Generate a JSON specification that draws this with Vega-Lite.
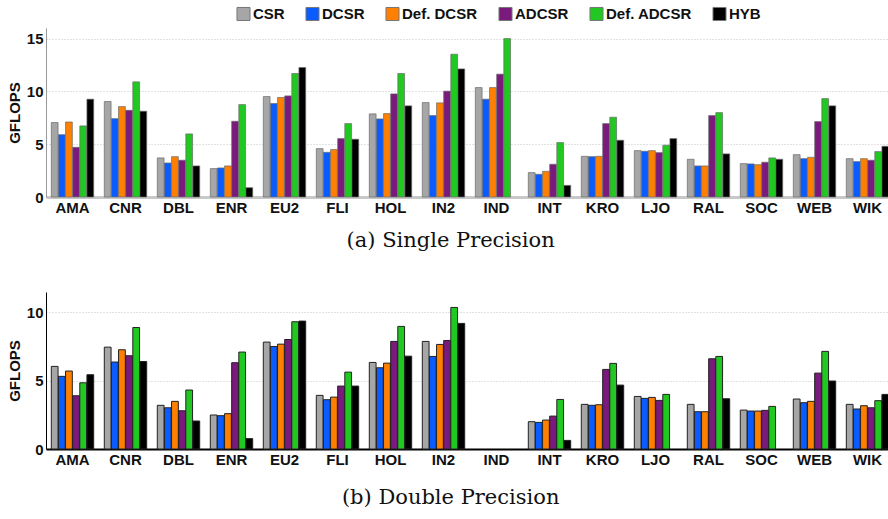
{
  "$schema": "https://vega.github.io/schema/vega-lite/v6.json",
  "padding": {"left": 7, "top": 6, "right": 0, "bottom": 0},
  "background": "white",
  "config": {
    "view": {"stroke": null},
    "axis": {"labelFont": "Liberation Sans", "labelFontWeight": "bold", "labelFontSize": 15, "labelColor": "#111", "titleFont": "Liberation Sans", "titleFontWeight": "bold", "titleFontSize": 15, "titleColor": "#111", "ticks": false},
    "title": {"font": "DejaVu Serif", "fontSize": 21, "fontWeight": "normal", "color": "#111", "orient": "bottom", "anchor": "middle", "frame": "bounds", "offset": 15}
  },
  "spacing": 41,
  "resolve": {"legend": {"color": "independent"}},
  "datasets": {
    "sp": [
      {"m":"AMA","f":"CSR","v":7.05},{"m":"AMA","f":"DCSR","v":5.9},{"m":"AMA","f":"Def. DCSR","v":7.1},{"m":"AMA","f":"ADCSR","v":4.7},{"m":"AMA","f":"Def. ADCSR","v":6.73},{"m":"AMA","f":"HYB","v":9.26},
      {"m":"CNR","f":"CSR","v":9.04},{"m":"CNR","f":"DCSR","v":7.42},{"m":"CNR","f":"Def. DCSR","v":8.56},{"m":"CNR","f":"ADCSR","v":8.21},{"m":"CNR","f":"Def. ADCSR","v":10.9},{"m":"CNR","f":"HYB","v":8.12},
      {"m":"DBL","f":"CSR","v":3.7},{"m":"DBL","f":"DCSR","v":3.22},{"m":"DBL","f":"Def. DCSR","v":3.82},{"m":"DBL","f":"ADCSR","v":3.48},{"m":"DBL","f":"Def. ADCSR","v":5.97},{"m":"DBL","f":"HYB","v":2.94},
      {"m":"ENR","f":"CSR","v":2.69},{"m":"ENR","f":"DCSR","v":2.75},{"m":"ENR","f":"Def. DCSR","v":2.94},{"m":"ENR","f":"ADCSR","v":7.17},{"m":"ENR","f":"Def. ADCSR","v":8.75},{"m":"ENR","f":"HYB","v":0.88},
      {"m":"EU2","f":"CSR","v":9.51},{"m":"EU2","f":"DCSR","v":8.85},{"m":"EU2","f":"Def. DCSR","v":9.42},{"m":"EU2","f":"ADCSR","v":9.57},{"m":"EU2","f":"Def. ADCSR","v":11.69},{"m":"EU2","f":"HYB","v":12.26},
      {"m":"FLI","f":"CSR","v":4.58},{"m":"FLI","f":"DCSR","v":4.23},{"m":"FLI","f":"Def. DCSR","v":4.49},{"m":"FLI","f":"ADCSR","v":5.53},{"m":"FLI","f":"Def. ADCSR","v":6.95},{"m":"FLI","f":"HYB","v":5.47},
      {"m":"HOL","f":"CSR","v":7.87},{"m":"HOL","f":"DCSR","v":7.39},{"m":"HOL","f":"Def. DCSR","v":7.9},{"m":"HOL","f":"ADCSR","v":9.76},{"m":"HOL","f":"Def. ADCSR","v":11.69},{"m":"HOL","f":"HYB","v":8.63},
      {"m":"IN2","f":"CSR","v":8.94},{"m":"IN2","f":"DCSR","v":7.71},{"m":"IN2","f":"Def. DCSR","v":8.91},{"m":"IN2","f":"ADCSR","v":10.02},{"m":"IN2","f":"Def. ADCSR","v":13.52},{"m":"IN2","f":"HYB","v":12.13},
      {"m":"IND","f":"CSR","v":10.36},{"m":"IND","f":"DCSR","v":9.26},{"m":"IND","f":"Def. DCSR","v":10.36},{"m":"IND","f":"ADCSR","v":11.63},{"m":"IND","f":"Def. ADCSR","v":15.0},
      {"m":"INT","f":"CSR","v":2.31},{"m":"INT","f":"DCSR","v":2.15},{"m":"INT","f":"Def. DCSR","v":2.43},{"m":"INT","f":"ADCSR","v":3.1},{"m":"INT","f":"Def. ADCSR","v":5.15},{"m":"INT","f":"HYB","v":1.1},
      {"m":"KRO","f":"CSR","v":3.85},{"m":"KRO","f":"DCSR","v":3.82},{"m":"KRO","f":"Def. DCSR","v":3.85},{"m":"KRO","f":"ADCSR","v":6.95},{"m":"KRO","f":"Def. ADCSR","v":7.55},{"m":"KRO","f":"HYB","v":5.37},
      {"m":"LJO","f":"CSR","v":4.39},{"m":"LJO","f":"DCSR","v":4.33},{"m":"LJO","f":"Def. DCSR","v":4.39},{"m":"LJO","f":"ADCSR","v":4.2},{"m":"LJO","f":"Def. ADCSR","v":4.9},{"m":"LJO","f":"HYB","v":5.53},
      {"m":"RAL","f":"CSR","v":3.57},{"m":"RAL","f":"DCSR","v":2.94},{"m":"RAL","f":"Def. DCSR","v":2.94},{"m":"RAL","f":"ADCSR","v":7.71},{"m":"RAL","f":"Def. ADCSR","v":7.99},{"m":"RAL","f":"HYB","v":4.08},
      {"m":"SOC","f":"CSR","v":3.16},{"m":"SOC","f":"DCSR","v":3.13},{"m":"SOC","f":"Def. DCSR","v":3.06},{"m":"SOC","f":"ADCSR","v":3.29},{"m":"SOC","f":"Def. ADCSR","v":3.7},{"m":"SOC","f":"HYB","v":3.57},
      {"m":"WEB","f":"CSR","v":4.01},{"m":"WEB","f":"DCSR","v":3.63},{"m":"WEB","f":"Def. DCSR","v":3.76},{"m":"WEB","f":"ADCSR","v":7.14},{"m":"WEB","f":"Def. ADCSR","v":9.32},{"m":"WEB","f":"HYB","v":8.63},
      {"m":"WIK","f":"CSR","v":3.63},{"m":"WIK","f":"DCSR","v":3.35},{"m":"WIK","f":"Def. DCSR","v":3.63},{"m":"WIK","f":"ADCSR","v":3.48},{"m":"WIK","f":"Def. ADCSR","v":4.3},{"m":"WIK","f":"HYB","v":4.8}
    ],
    "dp": [
      {"m":"AMA","f":"CSR","v":6.05},{"m":"AMA","f":"DCSR","v":5.32},{"m":"AMA","f":"Def. DCSR","v":5.71},{"m":"AMA","f":"ADCSR","v":3.9},{"m":"AMA","f":"Def. ADCSR","v":4.85},{"m":"AMA","f":"HYB","v":5.44},
      {"m":"CNR","f":"CSR","v":7.46},{"m":"CNR","f":"DCSR","v":6.37},{"m":"CNR","f":"Def. DCSR","v":7.27},{"m":"CNR","f":"ADCSR","v":6.83},{"m":"CNR","f":"Def. ADCSR","v":8.9},{"m":"CNR","f":"HYB","v":6.41},
      {"m":"DBL","f":"CSR","v":3.2},{"m":"DBL","f":"DCSR","v":3.02},{"m":"DBL","f":"Def. DCSR","v":3.49},{"m":"DBL","f":"ADCSR","v":2.8},{"m":"DBL","f":"Def. ADCSR","v":4.32},{"m":"DBL","f":"HYB","v":2.05},
      {"m":"ENR","f":"CSR","v":2.49},{"m":"ENR","f":"DCSR","v":2.44},{"m":"ENR","f":"Def. DCSR","v":2.59},{"m":"ENR","f":"ADCSR","v":6.32},{"m":"ENR","f":"Def. ADCSR","v":7.1},{"m":"ENR","f":"HYB","v":0.76},
      {"m":"EU2","f":"CSR","v":7.83},{"m":"EU2","f":"DCSR","v":7.51},{"m":"EU2","f":"Def. DCSR","v":7.68},{"m":"EU2","f":"ADCSR","v":8.02},{"m":"EU2","f":"Def. ADCSR","v":9.32},{"m":"EU2","f":"HYB","v":9.37},
      {"m":"FLI","f":"CSR","v":3.93},{"m":"FLI","f":"DCSR","v":3.61},{"m":"FLI","f":"Def. DCSR","v":3.8},{"m":"FLI","f":"ADCSR","v":4.61},{"m":"FLI","f":"Def. ADCSR","v":5.63},{"m":"FLI","f":"HYB","v":4.61},
      {"m":"HOL","f":"CSR","v":6.34},{"m":"HOL","f":"DCSR","v":5.95},{"m":"HOL","f":"Def. DCSR","v":6.29},{"m":"HOL","f":"ADCSR","v":7.88},{"m":"HOL","f":"Def. ADCSR","v":8.98},{"m":"HOL","f":"HYB","v":6.8},
      {"m":"IN2","f":"CSR","v":7.88},{"m":"IN2","f":"DCSR","v":6.78},{"m":"IN2","f":"Def. DCSR","v":7.66},{"m":"IN2","f":"ADCSR","v":7.95},{"m":"IN2","f":"Def. ADCSR","v":10.37},{"m":"IN2","f":"HYB","v":9.2},
      {"m":"INT","f":"CSR","v":2.0},{"m":"INT","f":"DCSR","v":1.95},{"m":"INT","f":"Def. DCSR","v":2.12},{"m":"INT","f":"ADCSR","v":2.41},{"m":"INT","f":"Def. ADCSR","v":3.63},{"m":"INT","f":"HYB","v":0.63},
      {"m":"KRO","f":"CSR","v":3.27},{"m":"KRO","f":"DCSR","v":3.2},{"m":"KRO","f":"Def. DCSR","v":3.24},{"m":"KRO","f":"ADCSR","v":5.83},{"m":"KRO","f":"Def. ADCSR","v":6.27},{"m":"KRO","f":"HYB","v":4.68},
      {"m":"LJO","f":"CSR","v":3.85},{"m":"LJO","f":"DCSR","v":3.71},{"m":"LJO","f":"Def. DCSR","v":3.78},{"m":"LJO","f":"ADCSR","v":3.56},{"m":"LJO","f":"Def. ADCSR","v":4.0},
      {"m":"RAL","f":"CSR","v":3.27},{"m":"RAL","f":"DCSR","v":2.73},{"m":"RAL","f":"Def. DCSR","v":2.73},{"m":"RAL","f":"ADCSR","v":6.61},{"m":"RAL","f":"Def. ADCSR","v":6.78},{"m":"RAL","f":"HYB","v":3.68},
      {"m":"SOC","f":"CSR","v":2.85},{"m":"SOC","f":"DCSR","v":2.78},{"m":"SOC","f":"Def. DCSR","v":2.78},{"m":"SOC","f":"ADCSR","v":2.83},{"m":"SOC","f":"Def. ADCSR","v":3.12},
      {"m":"WEB","f":"CSR","v":3.66},{"m":"WEB","f":"DCSR","v":3.39},{"m":"WEB","f":"Def. DCSR","v":3.49},{"m":"WEB","f":"ADCSR","v":5.56},{"m":"WEB","f":"Def. ADCSR","v":7.15},{"m":"WEB","f":"HYB","v":4.98},
      {"m":"WIK","f":"CSR","v":3.27},{"m":"WIK","f":"DCSR","v":2.93},{"m":"WIK","f":"Def. DCSR","v":3.17},{"m":"WIK","f":"ADCSR","v":3.02},{"m":"WIK","f":"Def. ADCSR","v":3.54},{"m":"WIK","f":"HYB","v":4.0}
    ]
  },
  "vconcat": [
    {
      "width": 848,
      "height": 169,
      "data": {"name": "sp"},
      "title": {"text": "(a) Single Precision"},
      "mark": {"type": "bar", "stroke": "#6a6a6a", "strokeWidth": 0.7},
      "encoding": {
        "x": {"field": "m", "type": "nominal", "title": null,
          "scale": {"domain": ["AMA","CNR","DBL","ENR","EU2","FLI","HOL","IN2","IND","INT","KRO","LJO","RAL","SOC","WEB","WIK"], "paddingInner": 0.2, "paddingOuter": 0.1},
          "axis": {"labelAngle": 0, "labelPadding": 3, "domainColor": "#c8c8c8", "domainWidth": 3, "grid": false}},
        "xOffset": {"field": "f", "type": "nominal",
          "scale": {"domain": ["CSR","DCSR","Def. DCSR","ADCSR","Def. ADCSR","HYB"], "paddingInner": 0.05}},
        "y": {"field": "v", "type": "quantitative", "title": "GFLOPS",
          "scale": {"domain": [0, 16], "nice": false},
          "axis": {"values": [0, 5, 10, 15], "labelPadding": 3, "titlePadding": 4, "domainColor": "#999999", "domainWidth": 1, "grid": true, "gridColor": "#c4c4c4", "gridDash": [1, 2], "gridWidth": 1}},
        "color": {"field": "f", "type": "nominal",
          "scale": {"domain": ["CSR","DCSR","Def. DCSR","ADCSR","Def. ADCSR","HYB"], "range": ["#a6a6a6","#0a5cff","#ff8000","#7b1a7d","#22c822","#000000"]},
          "legend": {"orient": "none", "legendX": 190, "legendY": -22, "direction": "horizontal", "columns": 6, "title": null,
            "symbolType": "square", "symbolSize": 170, "symbolStrokeColor": "#777777", "symbolStrokeWidth": 1, "symbolOpacity": 1,
            "labelFont": "Liberation Sans", "labelFontWeight": "bold", "labelFontSize": 15, "labelColor": "#111", "labelOffset": 2, "columnPadding": 18}}
      }
    },
    {
      "width": 848,
      "height": 157,
      "data": {"name": "dp"},
      "title": {"text": "(b) Double Precision", "offset": 20},
      "mark": {"type": "bar", "stroke": "#222222", "strokeWidth": 1},
      "encoding": {
        "x": {"field": "m", "type": "nominal", "title": null,
          "scale": {"domain": ["AMA","CNR","DBL","ENR","EU2","FLI","HOL","IN2","IND","INT","KRO","LJO","RAL","SOC","WEB","WIK"], "paddingInner": 0.2, "paddingOuter": 0.1},
          "axis": {"labelAngle": 0, "labelPadding": 3, "domainColor": "#000000", "domainWidth": 2, "grid": false}},
        "xOffset": {"field": "f", "type": "nominal",
          "scale": {"domain": ["CSR","DCSR","Def. DCSR","ADCSR","Def. ADCSR","HYB"], "paddingInner": 0.05}},
        "y": {"field": "v", "type": "quantitative", "title": "GFLOPS",
          "scale": {"domain": [0, 11.5], "nice": false},
          "axis": {"values": [0, 5, 10], "labelPadding": 3, "titlePadding": 4, "domainColor": "#000000", "domainWidth": 1, "grid": true, "gridColor": "#c4c4c4", "gridDash": [1, 2], "gridWidth": 1}},
        "color": {"field": "f", "type": "nominal",
          "scale": {"domain": ["CSR","DCSR","Def. DCSR","ADCSR","Def. ADCSR","HYB"], "range": ["#a6a6a6","#0a5cff","#ff8000","#7b1a7d","#22c822","#000000"]},
          "legend": null}
      }
    }
  ]
}
